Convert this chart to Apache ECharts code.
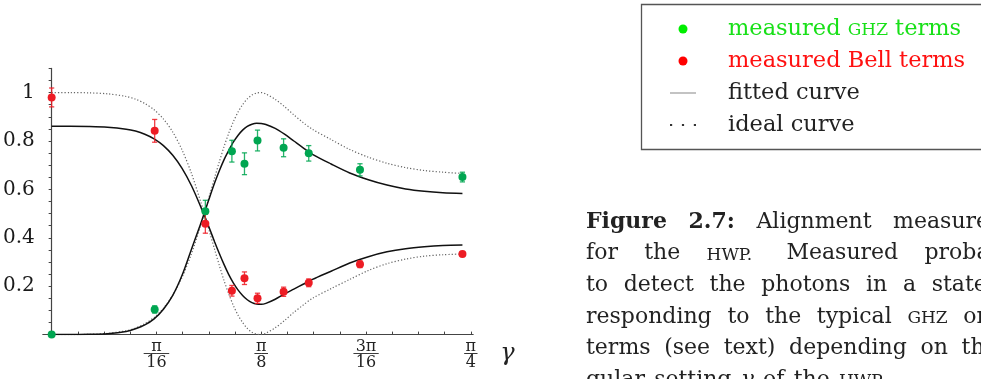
<!DOCTYPE html>
<html>
<head>
<meta charset="utf-8">
<script src="https://cdn.jsdelivr.net/npm/echarts@6/dist/echarts.min.js"></script>
<style>
html,body{margin:0;padding:0;background:#fff;}
#chart{width:981px;height:379px;}
</style>
</head>
<body>
<div id="chart"></div>
<script>
// ---- data (x in degrees of the HWP angle gamma) ----
const ghzX   = [0, 11.06, 16.5, 19.35, 20.7, 22.1, 24.9, 27.6, 33.1, 44.1];
const ghzY   = [0.000, 0.104, 0.510, 0.758, 0.706, 0.802, 0.772, 0.749, 0.681, 0.651];
const ghzErr = [0, 0.015, 0.045, 0.045, 0.045, 0.043, 0.037, 0.032, 0.025, 0.020];

const bellX   = [0, 11.06, 16.5, 19.35, 20.7, 22.1, 24.9, 27.6, 33.1, 44.1];
const bellY   = [0.980, 0.842, 0.458, 0.181, 0.233, 0.150, 0.177, 0.214, 0.291, 0.333];
const bellErr = [0.039, 0.047, 0.039, 0.022, 0.026, 0.021, 0.019, 0.016, 0.014, 0.010];

const curveX = [0, 2, 4, 6, 8, 9, 10, 11, 12, 13, 14, 15, 16, 16.5, 17, 17.5, 18, 18.5, 19, 19.5,
                20, 20.5, 21, 21.5, 22, 22.5, 23, 24, 25, 26, 27, 28, 30, 32, 34, 36, 38, 40, 42, 44.1];
const fitGhz = [0, 0.000, 0.001, 0.004, 0.013, 0.024, 0.040, 0.065, 0.105, 0.162, 0.245, 0.352,
                0.458, 0.515, 0.572, 0.627, 0.677, 0.722, 0.760, 0.795, 0.823, 0.845, 0.860, 0.869, 0.873, 0.872, 0.868,
                0.852, 0.828, 0.800, 0.772, 0.745, 0.705, 0.668, 0.640, 0.618, 0.602, 0.592, 0.586, 0.583];
const fitBell = [0.861, 0.861, 0.860, 0.857, 0.849, 0.841, 0.828, 0.809, 0.781, 0.741, 0.687, 0.616,
                 0.529, 0.482, 0.433, 0.383, 0.335, 0.290, 0.249, 0.214, 0.185, 0.162, 0.144, 0.132, 0.126, 0.125, 0.129,
                 0.146, 0.168, 0.188, 0.208, 0.228, 0.262, 0.296, 0.322, 0.342, 0.355, 0.363, 0.368, 0.370];
const idealGhz = [0, 0.000, 0.001, 0.005, 0.016, 0.027, 0.045, 0.071, 0.109, 0.163, 0.237, 0.333,
                  0.451, 0.515, 0.582, 0.649, 0.714, 0.776, 0.831, 0.879, 0.919, 0.950, 0.974, 0.990, 0.998, 1.000, 0.994,
                  0.972, 0.942, 0.908, 0.876, 0.848, 0.806, 0.765, 0.733, 0.708, 0.690, 0.678, 0.671, 0.666];
const idealBell = [1.000, 1.000, 0.999, 0.995, 0.984, 0.973, 0.955, 0.929, 0.891, 0.837, 0.763, 0.667,
                   0.549, 0.485, 0.418, 0.351, 0.286, 0.224, 0.169, 0.121, 0.081, 0.050, 0.026, 0.010, 0.002, 0.000, 0.006,
                   0.028, 0.058, 0.092, 0.122, 0.150, 0.190, 0.228, 0.265, 0.293, 0.312, 0.324, 0.330, 0.333];

// ticks
const xTickValues = [2.8125, 5.625, 8.4375, 11.25, 14.0625, 16.875, 19.6875, 22.5, 25.3125, 28.125, 30.9375, 33.75, 36.5625, 39.375, 42.1875, 45];
const xLabelValues = [11.25, 22.5, 33.75, 45];
const xLabelNum = ['π', 'π', '3π', 'π'];
const xLabelDen = ['16', '8', '16', '4'];
const yLabelValues = [0.2, 0.4, 0.6, 0.8, 1];
const yLabelText = ['0.2', '0.4', '0.6', '0.8', '1'];

// legend & caption text (b = bold, sc = small caps, i = italic, p = sentence end)
const legendNames = ['measured GHZ terms', 'measured Bell terms', 'fitted curve', 'ideal curve'];
const captionLines = [
  [['Figure', 'b'], ['2.7:', 'b'], ['Alignment'], ['measurement']],
  [['for'], ['the'], ['HWP.', 'sc', 'p'], ['Measured'], ['probability']],
  [['to'], ['detect'], ['the'], ['photons'], ['in'], ['a'], ['state'], ['cor-']],
  [['responding'], ['to'], ['the'], ['typical'], ['GHZ', 'sc'], ['or'], ['Bell']],
  [['terms'], ['(see'], ['text)'], ['depending'], ['on'], ['the'], ['an-']],
  [['gular'], ['setting'], ['γ', 'i'], ['of'], ['the'], ['HWP.', 'sc', 'p']]
];

const FONT = 'DejaVu Serif';
const GREEN = '#00a651', RED = '#ed1c24';

function pair(xs, ys) { return xs.map((x, i) => [x, ys[i]]); }
function triple(xs, ys, es) { return xs.map((x, i) => [x, ys[i], es[i]]); }

function errRender(params, api) {
  const x = api.value(0), y = api.value(1), e = api.value(2);
  if (!e) return null;
  const top = api.coord([x, y + e]), bot = api.coord([x, y - e]);
  const w = 2.6;
  const color = api.visual('color');
  const st = { stroke: color, lineWidth: 1.3, opacity: 0.85 };
  return {
    type: 'group',
    children: [
      { type: 'line', shape: { x1: top[0], y1: top[1], x2: bot[0], y2: bot[1] }, style: st },
      { type: 'line', shape: { x1: top[0] - w, y1: top[1], x2: top[0] + w, y2: top[1] }, style: st },
      { type: 'line', shape: { x1: bot[0] - w, y1: bot[1], x2: bot[0] + w, y2: bot[1] }, style: st }
    ]
  };
}

// ---- caption layout: justified lines between a left and right margin ----
const CAP_LEFT = 586, CAP_RIGHT = 1046, CAP_FIRST_BASE = 230, CAP_PITCH = 31.6, CAP_SIZE = 22, CAP_SC = 17;
const mctx = document.createElement('canvas').getContext('2d');
function wordStyle(kind) {
  const fs = kind === 'sc' ? CAP_SC : CAP_SIZE;
  return { fs, weight: kind === 'b' ? 'bold' : 'normal', style: kind === 'i' ? 'italic' : 'normal' };
}
const graphicEls = [{
  type: 'rect', shape: { x: 641.5, y: 4.5, width: 360, height: 145 },
  style: { fill: 'none', stroke: '#555', lineWidth: 1.3 }, silent: true
}];
captionLines.forEach((line, li) => {
  const widths = line.map(w => {
    const s = wordStyle(w[1]);
    mctx.font = s.style + ' ' + s.weight + ' ' + s.fs + 'px "' + FONT + '"';
    return mctx.measureText(w[0]).width;
  });
  const total = widths.reduce((a, b) => a + b, 0);
  const weights = line.slice(0, -1).map(w => (w[2] === 'p' ? 1.3 : 1));
  const wsum = weights.reduce((a, b) => a + b, 0);
  const last = li === captionLines.length - 1;
  const unit = last ? 0.42 * CAP_SIZE : (CAP_RIGHT - CAP_LEFT - total) / wsum;
  const base = CAP_FIRST_BASE + li * CAP_PITCH;
  let x = CAP_LEFT;
  line.forEach((w, wi) => {
    const s = wordStyle(w[1]);
    graphicEls.push({
      type: 'text', x: x, y: base - 0.36 * s.fs, silent: true,
      style: {
        text: w[0], fontFamily: FONT, fontSize: s.fs, fontWeight: s.weight, fontStyle: s.style,
        fill: '#222', verticalAlign: 'middle', align: 'left'
      }
    });
    x += widths[wi] + (wi < weights.length ? weights[wi] * unit : 0);
  });
});

const chart = echarts.init(document.getElementById('chart'), null, { renderer: 'canvas' });
chart.setOption({
  animation: false,
  backgroundColor: '#fff',
  grid: { left: 42.75, top: 68.4, width: 430.4, height: 266.2, containLabel: false },
  xAxis: {
    type: 'value', min: -0.95, max: 45.25,
    name: 'γ', nameLocation: 'end', nameGap: 27,
    nameTextStyle: { fontFamily: FONT, fontStyle: 'italic', fontSize: 24, color: '#222', verticalAlign: 'top', padding: [7, 0, 0, 0] },
    axisLine: { onZero: true, lineStyle: { color: '#444', width: 1.2 } },
    axisTick: { show: true, inside: true, length: 3, customValues: xTickValues, lineStyle: { color: '#444', width: 1 } },
    axisLabel: {
      customValues: xLabelValues, margin: 6,
      formatter: function (v) {
        const i = xLabelValues.findIndex(t => Math.abs(t - v) < 1e-6);
        if (i < 0) return '';
        const wide = xLabelNum[i].length > 1 || xLabelDen[i].length > 1;
        const bar = wide ? '{barW|────}' : '{barN|──}';
        return '{n|' + xLabelNum[i] + '}\n' + bar + '\n{d|' + xLabelDen[i] + '}';
      },
      rich: {
        n: { fontFamily: FONT, fontSize: 16, lineHeight: 12, color: '#222', align: 'center' },
        barN: { fontFamily: 'DejaVu Sans', fontSize: 11, lineHeight: 3, color: '#222', align: 'center' },
        barW: { fontFamily: 'DejaVu Sans', fontSize: 10.5, lineHeight: 3, color: '#222', align: 'center' },
        d: { fontFamily: FONT, fontSize: 16, lineHeight: 14, color: '#222', align: 'center' }
      }
    },
    splitLine: { show: false }
  },
  yAxis: {
    type: 'value', min: 0, max: 1.1, interval: 0.05,
    axisLine: { show: true, onZero: true, lineStyle: { color: '#444', width: 1.2 } },
    axisTick: { show: true, inside: false, length: 3, lineStyle: { color: '#444', width: 1 } },
    axisLabel: {
      margin: 8, fontFamily: FONT, fontSize: 20, color: '#1a1a1a',
      formatter: function (v) {
        const i = yLabelValues.findIndex(t => Math.abs(t - v) < 1e-6);
        return i < 0 ? '' : yLabelText[i];
      }
    },
    splitLine: { show: false }
  },
  legend: {
    orient: 'vertical', left: 670, top: 16, padding: 0, itemGap: 6,
    itemWidth: 26, itemHeight: 9, selectedMode: false,
    textStyle: {
      fontFamily: FONT, fontSize: 22.5, lineHeight: 26, padding: [0, 0, 0, 27],
      rich: { sc: { fontFamily: FONT, fontSize: 17, color: '#18e018', padding: [4, 0, 0, 0] } }
    },
    formatter: function (n) { return n === legendNames[0] ? 'measured {sc|GHZ} terms' : n; },
    data: [
      { name: legendNames[0], icon: 'circle', itemStyle: { color: '#00ee00' }, textStyle: { color: '#18e018' } },
      { name: legendNames[1], icon: 'circle', itemStyle: { color: '#ff0000' }, textStyle: { color: '#ff1010' } },
      { name: legendNames[2], icon: 'path://M0,0H26V1.2H0Z', itemStyle: { color: '#9a9a9a' }, textStyle: { color: '#222' } },
      { name: legendNames[3], icon: 'path://M0,0h2v2h-2zM11,0h2v2h-2zM22,0h2v2h-2z', itemStyle: { color: '#333' }, textStyle: { color: '#222' } }
    ]
  },
  graphic: { elements: graphicEls },
  series: [
    { name: legendNames[3], type: 'line', data: pair(curveX, idealBell), showSymbol: false, symbol: 'none', smooth: 0.3,
      lineStyle: { color: '#666', width: 1.2, type: [1.2, 2] }, itemStyle: { color: '#333' }, z: 2 },
    { name: legendNames[3], type: 'line', data: pair(curveX, idealGhz), showSymbol: false, symbol: 'none', smooth: 0.3,
      lineStyle: { color: '#666', width: 1.2, type: [1.2, 2] }, itemStyle: { color: '#333' }, z: 2 },
    { name: legendNames[2], type: 'line', data: pair(curveX, fitBell), showSymbol: false, symbol: 'none', smooth: 0.3,
      lineStyle: { color: '#111', width: 1.5 }, itemStyle: { color: '#999' }, z: 3 },
    { name: legendNames[2], type: 'line', data: pair(curveX, fitGhz), showSymbol: false, symbol: 'none', smooth: 0.3,
      lineStyle: { color: '#111', width: 1.5 }, itemStyle: { color: '#999' }, z: 3 },
    { name: legendNames[0], type: 'scatter', data: pair(ghzX, ghzY), symbol: 'circle', symbolSize: 8,
      itemStyle: { color: GREEN, opacity: 1 }, z: 6 },
    { name: legendNames[1], type: 'scatter', data: pair(bellX, bellY), symbol: 'circle', symbolSize: 8,
      itemStyle: { color: RED, opacity: 1 }, z: 6 },
    { name: legendNames[0], type: 'custom', data: triple(ghzX, ghzY, ghzErr), renderItem: errRender,
      itemStyle: { color: GREEN }, encode: { x: 0, y: 1 }, z: 5 },
    { name: legendNames[1], type: 'custom', data: triple(bellX, bellY, bellErr), renderItem: errRender,
      itemStyle: { color: RED }, encode: { x: 0, y: 1 }, z: 5 }
  ]
});
</script>
</body>
</html>
